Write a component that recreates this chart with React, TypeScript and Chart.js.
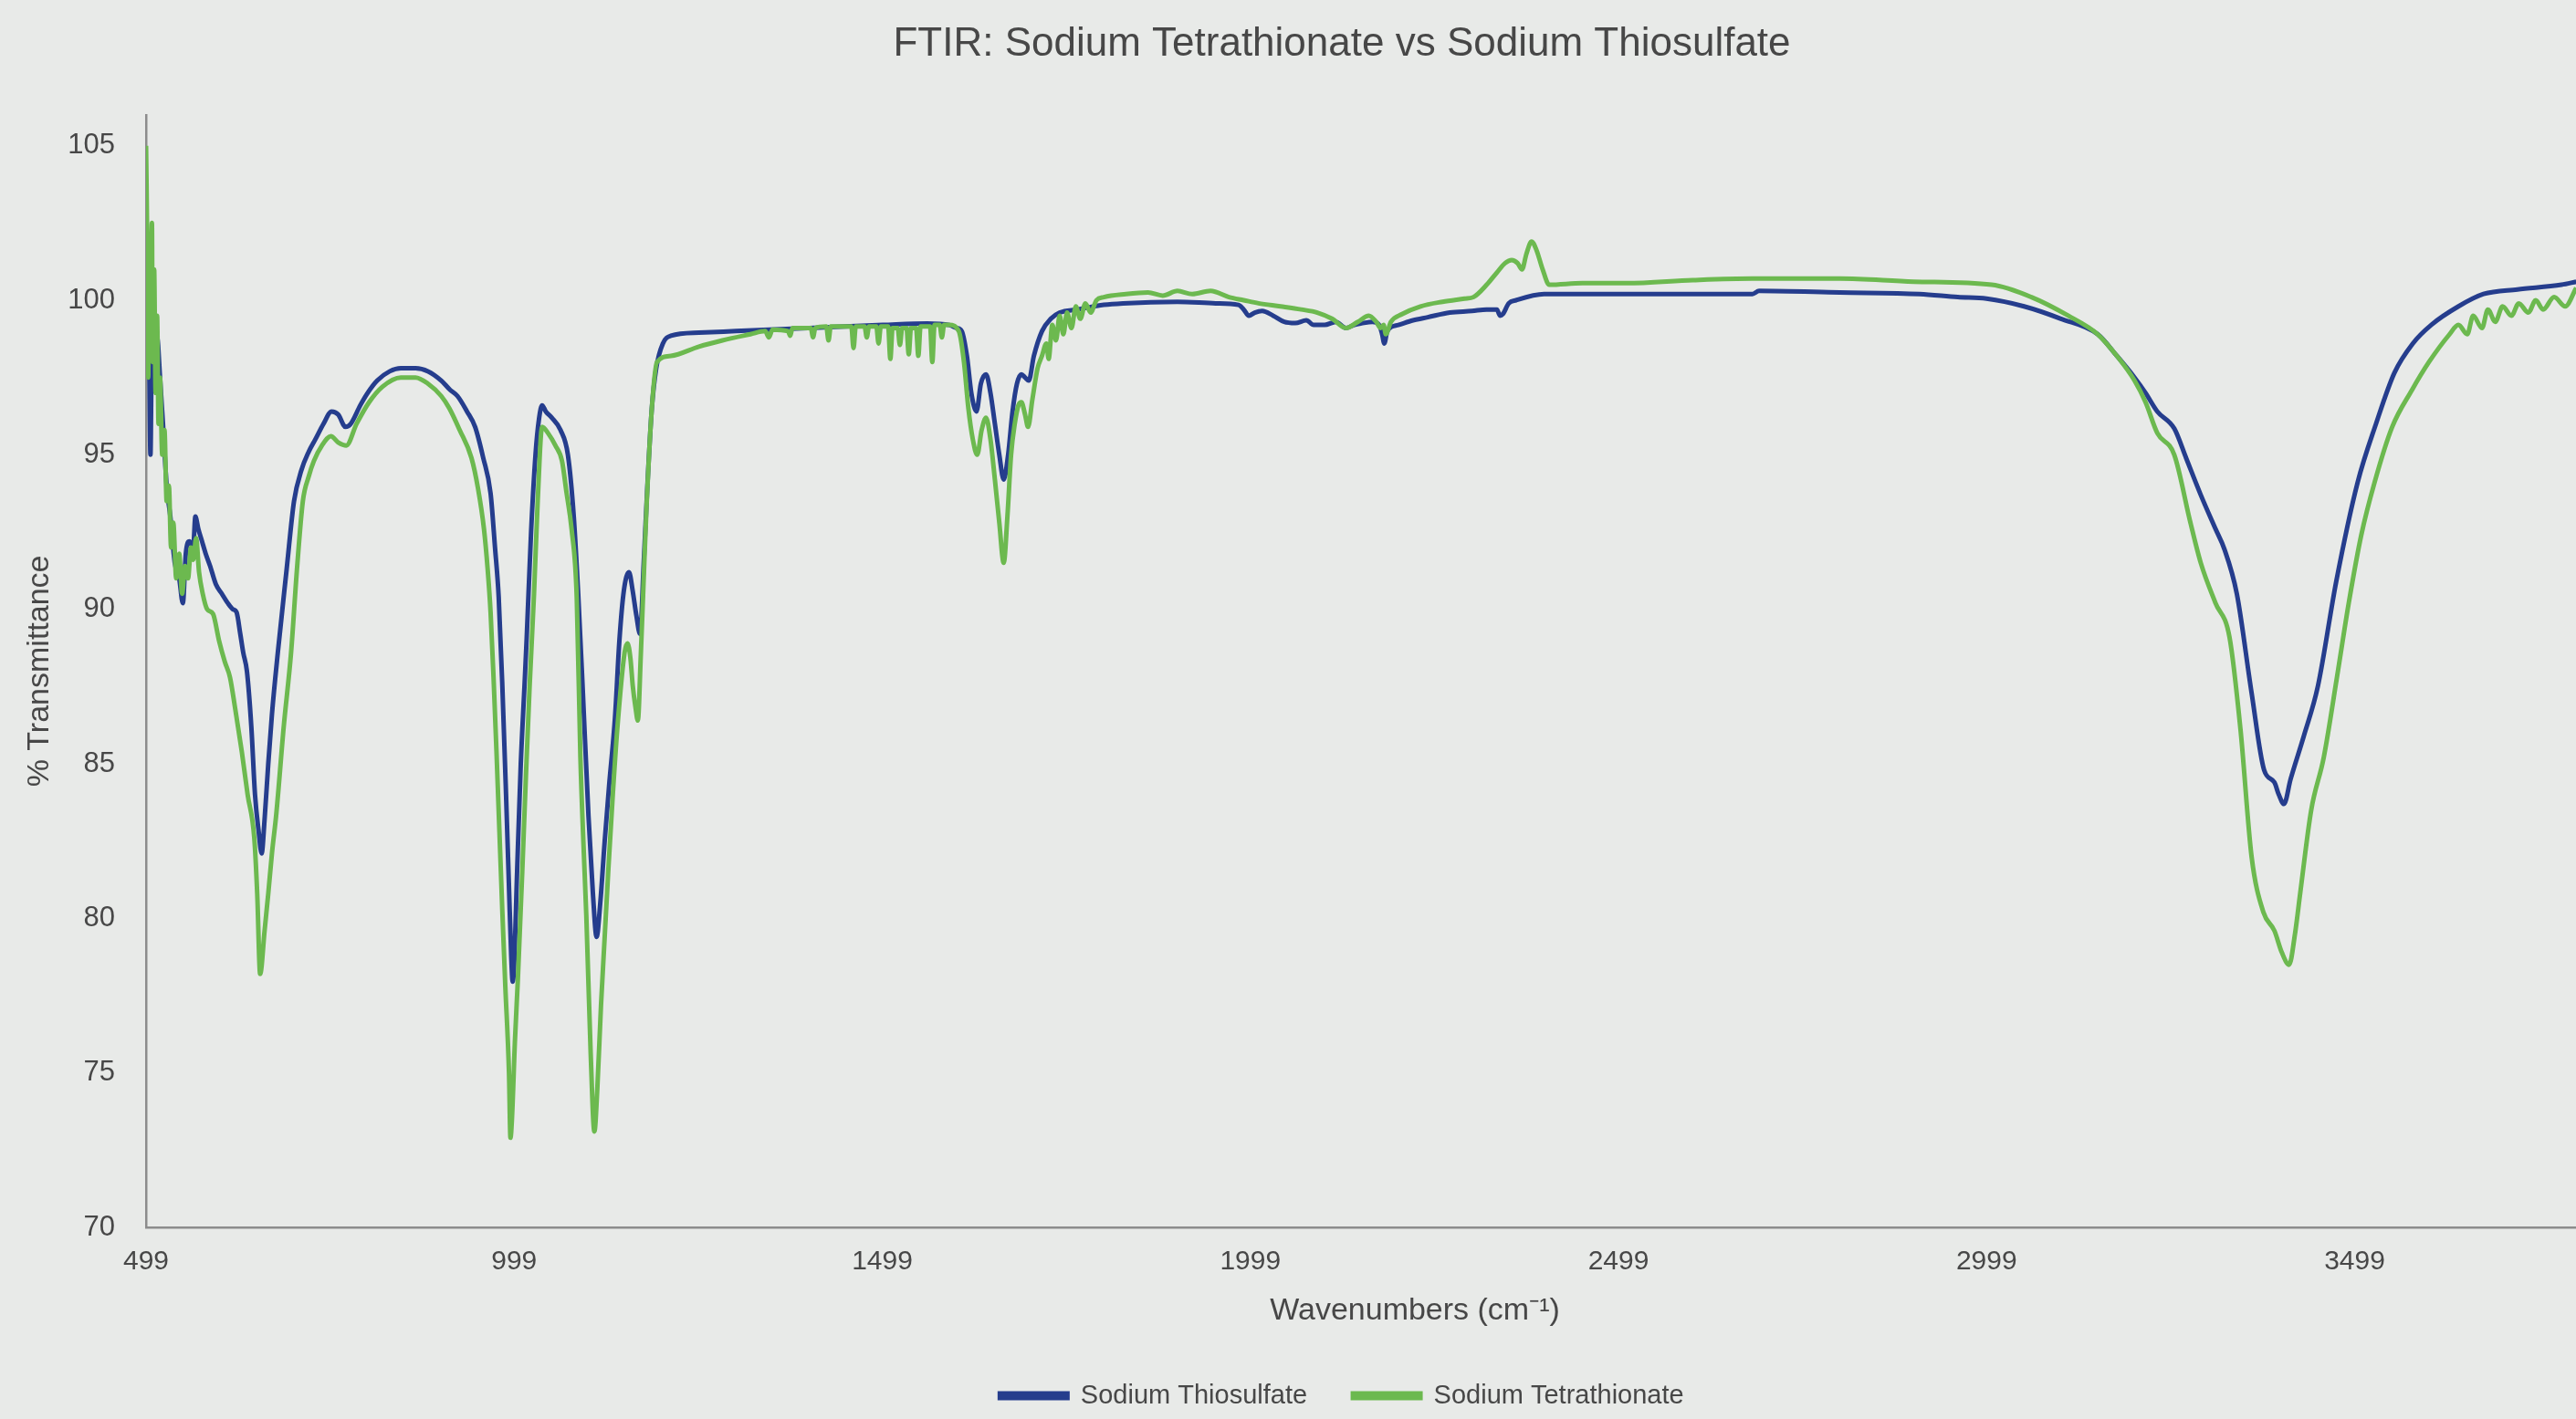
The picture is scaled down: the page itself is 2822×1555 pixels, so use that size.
import React, { useEffect, useRef } from "react";
import { Chart, registerables } from "chart.js";

Chart.register(...registerables);

const chartTitle = "FTIR: Sodium Tetrathionate vs Sodium Thiosulfate";
const xAxisTitle = "Wavenumbers (cm⁻¹)";
const yAxisTitle = "% Transmittance";
const seriesNames = ["Sodium Thiosulfate", "Sodium Tetrathionate"];
const xTickValues = [499, 999, 1499, 1999, 2499, 2999, 3499];
const yTickValues = [70, 75, 80, 85, 90, 95, 100, 105];
const xRange = [499, 3946];
const yRange = [70, 106];

// [wavenumber, % transmittance]
const thiosulfate: [number, number][] = [
  [499, 101.0], [501, 99.0], [503, 98.5], [505, 95.0], [507, 98.8], [510, 98.2], [514, 98.8], [518, 97.5],
  [522, 96.0], [527, 94.0], [532, 93.0], [538, 91.5], [544, 91.0], [549, 90.2], [553, 91.8], [558, 92.2],
  [563, 92.0], [566, 93.0], [570, 92.6], [575, 92.2], [580, 91.8], [586, 91.4], [594, 90.8], [602, 90.5],
  [610, 90.2], [617, 90.0], [622, 89.9], [627, 89.2], [631, 88.6], [636, 88.0], [642, 86.2], [647, 84.0],
  [652, 82.8], [656, 82.1], [660, 83.2], [665, 85.0], [670, 86.6], [678, 88.6], [690, 91.3], [700, 93.5],
  [710, 94.5], [720, 95.1], [729, 95.5], [740, 96.0], [751, 96.4], [760, 96.3], [770, 95.9], [777, 96.0],
  [790, 96.6], [800, 97.0], [813, 97.4], [830, 97.7], [845, 97.8], [865, 97.8], [882, 97.7], [900, 97.4],
  [912, 97.1], [922, 96.9], [935, 96.4], [946, 95.9], [957, 94.9], [967, 93.75], [973, 92.0], [978, 90.4],
  [983, 87.5], [988, 84.0], [992, 81.0], [995, 78.8], [997, 77.95], [999, 78.5], [1003, 81.5], [1008, 85.0],
  [1013, 87.5], [1016, 89.05], [1022, 92.5], [1028, 95.0], [1033, 96.2], [1037, 96.6], [1042, 96.4], [1050, 96.2],
  [1062, 95.8], [1072, 95.0], [1080, 93.0], [1086, 90.5], [1092, 87.5], [1100, 83.3], [1106, 80.8], [1111, 79.4],
  [1116, 80.5], [1122, 82.5], [1128, 84.3], [1136, 86.5], [1142, 89.0], [1148, 90.6], [1155, 91.2], [1160, 90.6],
  [1165, 89.8], [1170, 89.2], [1175, 91.5], [1180, 94.0], [1186, 96.5], [1192, 97.8], [1201, 98.6], [1212, 98.85],
  [1250, 98.95], [1300, 99.0], [1400, 99.1], [1500, 99.2], [1560, 99.25], [1590, 99.2], [1600, 99.1], [1607, 99.0],
  [1614, 98.2], [1620, 97.0], [1627, 96.4], [1633, 97.3], [1640, 97.6], [1646, 97.0], [1652, 96.0], [1658, 95.0],
  [1664, 94.2], [1670, 95.0], [1676, 96.4], [1682, 97.3], [1688, 97.6], [1693, 97.5], [1698, 97.4], [1705, 98.2],
  [1716, 99.0], [1728, 99.4], [1740, 99.6], [1764, 99.7], [1800, 99.85], [1826, 99.9], [1900, 99.95], [1952, 99.9],
  [1983, 99.85], [1990, 99.7], [1997, 99.5], [2005, 99.6], [2015, 99.65], [2030, 99.5], [2045, 99.3], [2060, 99.26],
  [2075, 99.35], [2085, 99.2], [2100, 99.2], [2115, 99.3], [2129, 99.1], [2140, 99.2], [2150, 99.25], [2165, 99.3],
  [2174, 99.2], [2178, 98.9], [2181, 98.6], [2185, 99.0], [2200, 99.2], [2220, 99.35], [2240, 99.45], [2270, 99.6],
  [2300, 99.65], [2320, 99.7], [2334, 99.7], [2338, 99.5], [2342, 99.55], [2350, 99.9], [2360, 100.0], [2398, 100.2],
  [2450, 100.2], [2510, 100.2], [2600, 100.2], [2681, 100.2], [2690, 100.3], [2800, 100.25], [2908, 100.2], [2960, 100.1],
  [2999, 100.05], [3050, 99.8], [3100, 99.4], [3150, 98.9], [3176, 98.2], [3200, 97.5], [3215, 97.0], [3231, 96.4],
  [3254, 95.85], [3270, 94.9], [3290, 93.7], [3310, 92.6], [3322, 91.95], [3339, 90.5], [3359, 87.3], [3376, 84.8],
  [3390, 84.4], [3396, 84.0], [3403, 83.7], [3412, 84.5], [3430, 85.9], [3449, 87.5], [3474, 90.9], [3503, 94.1],
  [3528, 96.0], [3553, 97.65], [3578, 98.6], [3603, 99.2], [3640, 99.8], [3674, 100.2], [3720, 100.35], [3780, 100.5],
  [3800, 100.6],
];

const tetrathionate: [number, number][] = [
  [499, 105.0], [501, 101.0], [502, 97.5], [503, 102.0], [505, 99.0], [507, 102.5], [508, 98.0], [510, 101.0],
  [512, 97.0], [514, 99.5], [516, 96.0], [518, 97.5], [521, 95.0], [524, 95.8], [527, 93.5], [530, 94.0],
  [533, 92.0], [536, 92.8], [540, 91.0], [544, 91.8], [548, 90.5], [552, 91.4], [556, 91.0], [560, 92.0],
  [563, 91.6], [567, 92.3], [571, 91.2], [576, 90.5], [582, 90.0], [590, 89.85], [598, 89.0], [606, 88.3],
  [613, 87.8], [620, 86.8], [629, 85.4], [637, 84.0], [646, 82.6], [650, 80.8], [654, 78.2], [660, 79.6],
  [665, 80.8], [670, 82.1], [676, 83.4], [686, 86.2], [696, 88.6], [704, 91.3], [712, 93.5], [720, 94.3],
  [727, 94.8], [738, 95.3], [750, 95.6], [760, 95.4], [771, 95.3], [785, 96.0], [802, 96.7], [820, 97.2],
  [845, 97.5], [865, 97.5], [882, 97.3], [900, 96.9], [911, 96.5], [925, 95.8], [941, 94.9], [950, 93.9],
  [958, 92.6], [963, 91.3], [967, 89.9], [971, 87.8], [975, 85.4], [979, 82.8], [983, 80.2], [987, 77.8],
  [992, 75.0], [994, 72.9], [996, 73.5], [1000, 76.0], [1004, 78.0], [1010, 81.5], [1015, 84.6], [1020, 87.5],
  [1026, 90.5], [1031, 93.5], [1037, 95.9], [1045, 95.7], [1055, 95.3], [1064, 94.8], [1070, 93.8], [1077, 92.6],
  [1084, 90.4], [1089, 85.2], [1093, 82.5], [1097, 80.1], [1103, 75.6], [1108, 73.1], [1112, 74.5], [1117, 77.2],
  [1122, 79.4], [1127, 81.6], [1133, 84.0], [1139, 86.1], [1149, 88.6], [1153, 88.9], [1157, 88.4], [1160, 87.55],
  [1164, 86.8], [1167, 86.4], [1171, 88.5], [1175, 91.0], [1179, 93.4], [1186, 96.5], [1193, 98.0], [1212, 98.2],
  [1250, 98.5], [1282, 98.7], [1320, 98.9], [1340, 99.0], [1345, 98.8], [1350, 99.05], [1371, 99.0], [1374, 98.85],
  [1377, 99.1], [1402, 99.1], [1405, 98.8], [1408, 99.1], [1423, 99.15], [1426, 98.7], [1429, 99.15], [1457, 99.15],
  [1460, 98.45], [1463, 99.15], [1475, 99.15], [1478, 98.8], [1481, 99.15], [1491, 99.15], [1494, 98.6], [1497, 99.15],
  [1507, 99.15], [1510, 98.1], [1513, 99.1], [1520, 99.1], [1523, 98.55], [1526, 99.1], [1532, 99.1], [1535, 98.25],
  [1538, 99.1], [1545, 99.1], [1548, 98.2], [1551, 99.15], [1564, 99.15], [1567, 98.0], [1570, 99.2], [1577, 99.2],
  [1580, 98.8], [1583, 99.2], [1590, 99.2], [1603, 99.0],
  [1610, 98.0], [1616, 96.5], [1622, 95.5], [1628, 95.0], [1634, 95.8], [1640, 96.2], [1646, 95.5], [1652, 94.2],
  [1658, 92.8], [1664, 91.5], [1669, 93.0], [1674, 95.0], [1679, 96.0], [1684, 96.6], [1688, 96.7], [1693, 96.3],
  [1697, 95.9], [1703, 96.8], [1710, 97.8], [1716, 98.2], [1722, 98.6], [1725, 98.1], [1730, 99.2], [1735, 98.7],
  [1740, 99.5], [1745, 98.9], [1750, 99.6], [1756, 99.1], [1762, 99.8], [1768, 99.4], [1775, 99.9], [1782, 99.6],
  [1790, 100.0], [1800, 100.1], [1830, 100.2], [1860, 100.25], [1880, 100.15], [1900, 100.3], [1920, 100.2], [1945, 100.3],
  [1970, 100.1], [1990, 100.0], [2010, 99.9], [2040, 99.8], [2068, 99.7], [2090, 99.6], [2110, 99.4], [2129, 99.1],
  [2145, 99.3], [2160, 99.5], [2170, 99.3], [2176, 99.1], [2180, 99.2], [2183, 98.9], [2190, 99.3], [2205, 99.55],
  [2230, 99.8], [2260, 99.95], [2290, 100.05], [2302, 100.1], [2320, 100.5], [2334, 100.9], [2345, 101.2], [2354, 101.3],
  [2362, 101.2], [2368, 101.0], [2374, 101.5], [2381, 101.9], [2388, 101.6], [2396, 101.0], [2405, 100.5], [2450, 100.55],
  [2510, 100.55], [2600, 100.65], [2681, 100.7], [2800, 100.7], [2900, 100.6], [3006, 100.5], [3060, 100.1], [3110, 99.5],
  [3150, 98.9], [3176, 98.2], [3200, 97.4], [3215, 96.7], [3231, 95.7], [3254, 95.0], [3276, 92.8], [3290, 91.5],
  [3310, 90.2], [3329, 89.1], [3344, 86.1], [3359, 82.0], [3375, 80.2], [3390, 79.6], [3400, 78.9], [3410, 78.5],
  [3418, 79.5], [3425, 80.8], [3440, 83.5], [3457, 85.2], [3475, 87.8], [3491, 90.2], [3508, 92.4], [3526, 94.1],
  [3550, 95.9], [3577, 97.1], [3600, 98.0], [3628, 98.9], [3640, 99.2], [3652, 98.9], [3660, 99.5], [3672, 99.1],
  [3680, 99.7], [3690, 99.3], [3700, 99.8], [3712, 99.5], [3722, 99.9], [3735, 99.6], [3745, 100.0], [3755, 99.7],
  [3770, 100.1], [3785, 99.8], [3800, 100.4],
];

const BLUE = "#253d8d";
const GREEN = "#6cb94f";
const TEXT = "#474747";
const AXIS = "#8c8c8c";
const BG = "#e8eae8";
const NARROW = "'Liberation Sans Narrow', 'Liberation Sans', Arial, sans-serif";
const SANS = "'Liberation Sans', Arial, sans-serif";

export default function App() {
  const canvasRef = useRef<HTMLCanvasElement | null>(null);

  useEffect(() => {
    const canvas = canvasRef.current;
    if (!canvas) return;
    const bgPlugin = {
      id: "bgFill",
      beforeDraw(chart: any) {
        const { ctx, width, height } = chart;
        ctx.save();
        ctx.fillStyle = BG;
        ctx.fillRect(0, 0, width, height);
        ctx.restore();
      },
    };
    const chart = new Chart(canvas, {
      type: "line",
      data: {
        datasets: [
          {
            label: seriesNames[0],
            data: thiosulfate.map(([x, y]) => ({ x, y })),
            borderColor: BLUE,
            backgroundColor: BLUE,
            borderWidth: 5,
            pointRadius: 0,
            cubicInterpolationMode: "monotone",
            order: 1,
          },
          {
            label: seriesNames[1],
            data: tetrathionate.map(([x, y]) => ({ x, y })),
            borderColor: GREEN,
            backgroundColor: GREEN,
            borderWidth: 5,
            pointRadius: 0,
            cubicInterpolationMode: "monotone",
            order: 0,
          },
        ],
      },
      options: {
        animation: false,
        responsive: true,
        maintainAspectRatio: false,
        layout: { padding: { left: 0, right: 0, top: 0, bottom: 1 } },
        plugins: {
          title: {
            display: true,
            text: chartTitle,
            color: TEXT,
            font: { family: NARROW, size: 44, weight: "normal" },
            padding: { top: 22, bottom: 51 },
          },
          legend: {
            display: true,
            position: "bottom",
            labels: {
              color: TEXT,
              font: { family: NARROW, size: 29 },
              boxWidth: 74,
              boxHeight: 5,
              padding: 50,
              sort: (a: any, b: any) => a.datasetIndex - b.datasetIndex,
            },
          },
          tooltip: { enabled: false },
        },
        scales: {
          x: {
            type: "linear",
            min: xRange[0],
            max: xRange[1],
            afterBuildTicks: (axis: any) => {
              axis.ticks = xTickValues.map((v) => ({ value: v }));
            },
            afterFit: (scale: any) => {
              scale.height = 120;
            },
            grid: { display: false, drawTicks: false },
            border: { display: true, color: AXIS, width: 2.5 },
            ticks: {
              autoSkip: false,
              maxRotation: 0,
              padding: 20,
              color: TEXT,
              font: { family: SANS, size: 30 },
              callback: (v: any) => String(v),
            },
            title: {
              display: true,
              text: xAxisTitle,
              color: TEXT,
              font: { family: NARROW, size: 34 },
              padding: { top: 0, bottom: 8 },
            },
          },
          y: {
            type: "linear",
            min: yRange[0],
            max: yRange[1],
            afterBuildTicks: (axis: any) => {
              axis.ticks = yTickValues.map((v) => ({ value: v }));
            },
            afterFit: (scale: any) => {
              scale.width = 160;
            },
            grid: { display: false, drawTicks: false },
            border: { display: true, color: AXIS, width: 2.5 },
            ticks: {
              padding: 34,
              color: TEXT,
              font: { family: SANS, size: 31 },
              callback: (v: any) => String(v),
            },
            title: {
              display: true,
              text: yAxisTitle,
              color: TEXT,
              font: { family: NARROW, size: 34 },
              padding: { top: 23, bottom: 0 },
            },
          },
        },
      },
      plugins: [bgPlugin],
    } as any);
    return () => chart.destroy();
  }, []);

  return (
    <div
      style={{
        position: "fixed",
        left: 0,
        top: 0,
        width: "2822px",
        height: "1555px",
        overflow: "hidden",
        background: BG,
      }}
    >
      <div style={{ position: "relative", width: "2940px", height: "1555px" }}>
        <canvas ref={canvasRef} />
      </div>
    </div>
  );
}
